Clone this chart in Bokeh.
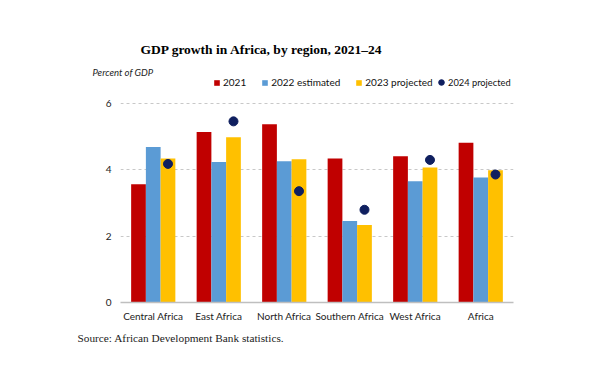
from bokeh.plotting import figure
from bokeh.models import (FactorRange, Range1d, FixedTicker, Legend,
                          LegendItem, ColumnDataSource, Title)
from bokeh.transform import dodge
from bokeh.embed import file_html
from bokeh.resources import INLINE

regions = ["Central Africa", "East Africa", "North Africa",
           "Southern Africa", "West Africa", "Africa"]
gdp_2021 = [3.56, 5.13, 5.36, 4.33, 4.40, 4.81]
gdp_2022 = [4.68, 4.23, 4.25, 2.45, 3.65, 3.76]
gdp_2023 = [4.33, 4.97, 4.31, 2.33, 4.06, 3.98]
gdp_2024 = [4.17, 5.45, 3.35, 2.79, 4.29, 3.85]
series_labels = ["2021", "2022 estimated", "2023 projected", "2024 projected"]
y_ticks = [0, 2, 4, 6]

C_RED, C_BLUE, C_YEL, C_NAVY = "#C00000", "#5B9BD5", "#FFC000", "#0F1F5F"
SANS = "Lato"
SERIF = "Liberation Serif"

src = ColumnDataSource(dict(region=regions, y2021=gdp_2021, y2022=gdp_2022,
                            y2023=gdp_2023, y2024=gdp_2024))

W, H = 602, 373
p = figure(width=W, height=H,
           x_range=FactorRange(factors=regions, range_padding=0),
           y_range=Range1d(0, 6.77),
           output_backend="svg", toolbar_location=None,
           min_border_left=120, min_border_right=89,
           min_border_top=77, min_border_bottom=71)
p.title.visible = False
p.outline_line_color = None
p.background_fill_color = "white"
p.border_fill_color = "white"

bw = 0.225
r1 = p.vbar(x=dodge("region", -bw, range=p.x_range), top="y2021", width=bw,
            source=src, fill_color=C_RED, line_color=None)
r2 = p.vbar(x=dodge("region", 0, range=p.x_range), top="y2022", width=bw,
            source=src, fill_color=C_BLUE, line_color=None)
r3 = p.vbar(x=dodge("region", bw, range=p.x_range), top="y2023", width=bw,
            source=src, fill_color=C_YEL, line_color=None)
r4 = p.scatter(x=dodge("region", bw, range=p.x_range), y="y2024", size=9,
               source=src, fill_color=C_NAVY, line_color=C_NAVY)

# axes
p.yaxis.ticker = FixedTicker(ticks=y_ticks)
p.yaxis.axis_line_color = None
p.yaxis.major_tick_line_color = None
p.yaxis.minor_tick_line_color = None
p.yaxis.major_label_standoff = 3
p.yaxis.major_label_text_font = SANS
p.yaxis.major_label_text_font_size = "10px"
p.yaxis.major_label_text_color = "#222222"

p.xaxis.axis_line_color = "#BFBFBF"
p.xaxis.axis_line_width = 1.5
p.xaxis.major_tick_line_color = None
p.xaxis.minor_tick_line_color = None
p.xaxis.major_label_standoff = 1
p.xaxis.major_label_text_font = SANS
p.xaxis.major_label_text_font_size = "10px"
p.xaxis.major_label_text_color = "#222222"

p.xgrid.visible = False
p.ygrid.ticker = FixedTicker(ticks=[2, 4, 6])
p.ygrid.grid_line_color = "#C8C8C8"
p.ygrid.grid_line_dash = "3 3"

# legends (inside the invisible upper part of the frame)
leg1 = Legend(items=[LegendItem(label=series_labels[0], renderers=[r1]),
                     LegendItem(label=series_labels[1], renderers=[r2]),
                     LegendItem(label=series_labels[2], renderers=[r3])],
              orientation="horizontal", location=(93, 214),
              glyph_width=7, glyph_height=7, label_standoff=3, spacing=15,
              padding=0, margin=0, label_height=10,
              label_text_font=SANS, label_text_font_size="10px",
              label_text_color="#111111",
              border_line_color=None, background_fill_alpha=0)
leg2 = Legend(items=[LegendItem(label=series_labels[3], renderers=[r4])],
              orientation="horizontal", location=(314, 213),
              glyph_width=14, glyph_height=14, label_standoff=0,
              padding=0, margin=0, label_height=10,
              label_text_font=SANS, label_text_font_size="9.3px",
              label_text_color="#111111",
              border_line_color=None, background_fill_alpha=0)
p.add_layout(leg1, "center")
p.add_layout(leg2, "center")

# titles (first added sits closest to the frame)
p.add_layout(Title(text="Percent of GDP", align="left", offset=-28,
                   standoff=0, text_font=SANS, text_font_style="italic",
                   text_font_size="9.5px", text_color="#222222"), "above")
p.add_layout(Title(text="GDP growth in Africa, by region, 2021–24",
                   align="left", offset=20, standoff=15,
                   text_font=SERIF, text_font_style="bold",
                   text_font_size="13.5px", text_color="#000000"), "above")
p.add_layout(Title(text="Source: African Development Bank statistics.",
                   align="left", offset=-43, standoff=11,
                   text_font=SERIF, text_font_style="normal",
                   text_font_size="11.3px", text_color="#222222"), "below")

open("out.html", "w").write(file_html(p, INLINE))
